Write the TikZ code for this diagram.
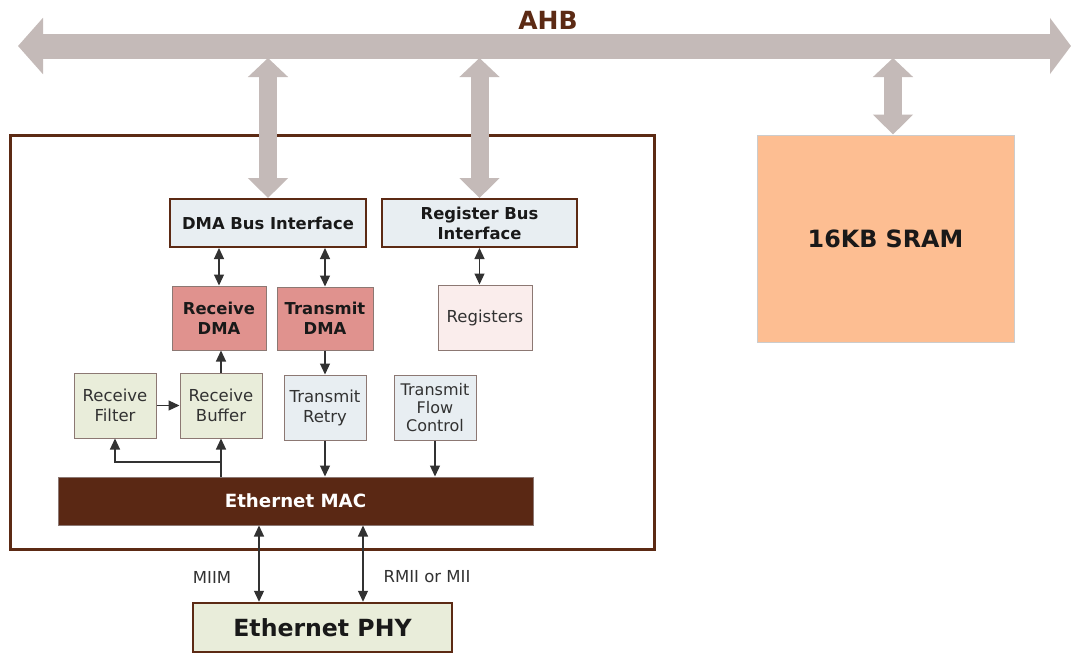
\documentclass[tikz,border=0pt]{standalone}
\usepackage{fontspec}
\setmainfont{DejaVu Sans}
\usetikzlibrary{arrows.meta,calc}
\definecolor{buscol}{RGB}{196,186,184}
\definecolor{brown}{RGB}{92,42,20}
\definecolor{macfill}{RGB}{90,40,20}
\definecolor{blfill}{RGB}{232,238,242}
\definecolor{grfill}{RGB}{233,237,218}
\definecolor{rdfill}{RGB}{224,146,142}
\definecolor{pkfill}{RGB}{250,237,236}
\definecolor{srfill}{RGB}{253,190,146}
\definecolor{thinb}{RGB}{140,120,115}
\definecolor{linecol}{RGB}{50,50,50}
\definecolor{txt}{RGB}{50,50,50}
\begin{document}
\begin{tikzpicture}[x=1pt,y=-1pt,
  box/.style={draw=thinb, line width=1pt, inner sep=0pt, align=center, text=txt,
    font=\fontsize{16.5}{20}\selectfont},
  bbox/.style={box, font=\fontsize{16.4}{20}\selectfont\bfseries, text=black!90},
  sarr/.style={draw=linecol, line width=1.2pt, -{Triangle[length=11pt,width=10pt]}},
  darr/.style={draw=linecol, line width=1.2pt, {Triangle[length=11pt,width=10pt]}-{Triangle[length=11pt,width=10pt]}},
  bus/.style={draw=buscol, line width=25pt, {Triangle[length=25pt,width=55pt]}-{Triangle[length=21pt,width=55pt]}},
  vbus/.style={draw=buscol, line width=18pt, {Triangle[length=19pt,width=39pt]}-{Triangle[length=20pt,width=39pt]}},
  lbl/.style={inner sep=0pt, text=txt, font=\fontsize{16.5}{20}\selectfont}
]
\useasboundingbox (0,0) rectangle (1071,654);
\fill[white] (0,0) rectangle (1071,654);

% outer box
\draw[brown, line width=3pt] (10,135) rectangle (654,549);

% bus
\coordinate (busL) at (18,46);
\coordinate (busR) at (1071,46);
\coordinate (busbot) at (0,58);
\coordinate (sramtap) at (893,58);
\draw[bus] (busL) -- (busR);
\node[inner sep=0pt, text=brown, font=\fontsize{25}{28}\selectfont\bfseries] (ahb) at (548,20) {AHB};

% blocks
\node[bbox, draw=brown, line width=2pt, fill=blfill, minimum width=196pt, minimum height=48pt] (dmabus) at (268,223) {DMA Bus Interface};
\node[bbox, draw=brown, line width=2pt, fill=blfill, minimum width=195pt, minimum height=48pt] (regbus) at (479.5,223) {Register Bus\\Interface};
\node[bbox, fill=rdfill, minimum width=94pt, minimum height=64pt] (rxdma) at (219,318) {Receive\\DMA};
\node[bbox, fill=rdfill, minimum width=96pt, minimum height=63pt] (txdma) at (325,318.5) {Transmit\\DMA};
\node[box, fill=pkfill, minimum width=94pt, minimum height=65pt] (regs) at (485,317.5) {Registers};
\node[box, fill=grfill, minimum width=82pt, minimum height=65pt] (rxf) at (115,405.5) {Receive\\Filter};
\node[box, fill=grfill, minimum width=82pt, minimum height=65pt] (rxb) at (221,405.5) {Receive\\Buffer};
\node[box, fill=blfill, minimum width=82pt, minimum height=65pt] (txr) at (325,407.5) {Transmit\\Retry};
\node[box, fill=blfill, minimum width=82pt, minimum height=65pt, font=\fontsize{16}{18.3}\selectfont] (txf) at (435,407.5) {Transmit\\Flow\\Control};
\node[draw=thinb, line width=1pt, fill=macfill, inner sep=0pt, minimum width=475pt, minimum height=48pt,
  text=white, font=\fontsize{18.2}{21}\selectfont\bfseries] (mac) at (295.5,501) {Ethernet MAC};
\node[draw=brown, line width=2.5pt, fill=grfill, inner sep=0pt, minimum width=259pt, minimum height=49pt,
  text=black!90, font=\fontsize{23.6}{27}\selectfont\bfseries] (phy) at (322.5,627.5) {Ethernet PHY};
\node[draw=black!20, line width=1pt, fill=srfill, inner sep=0pt, minimum width=257pt, minimum height=207pt,
  text=black!90, font=\fontsize{23.8}{27}\selectfont\bfseries] (sram) at (885.5,238.5) {16KB SRAM};

% bus taps
\draw[vbus] (dmabus.north |- busbot) -- (dmabus.north);
\draw[vbus] (regbus.north |- busbot) -- (regbus.north);
\draw[vbus] (sramtap) -- (sramtap |- sram.north);

% small connectors
\draw[darr] (rxdma.north |- dmabus.south) -- (rxdma.north);
\draw[darr] (txdma.north |- dmabus.south) -- (txdma.north);
\draw[darr] (regbus.south) -- (regbus.south |- regs.north);
\draw[sarr] (rxb.north) -- (rxb.north |- rxdma.south);
\draw[sarr] (txr.north |- txdma.south) -- (txr.north);
\draw[sarr] (rxf.east) -- (rxb.west);
\coordinate (br) at (0,462);
\draw[sarr] (rxb.south |- mac.north) -- (rxb.south);
\draw[sarr] (rxb.south |- br) -| (rxf.south);
\draw[sarr] (txr.south) -- (txr.south |- mac.north);
\draw[sarr] (txf.south) -- (txf.south |- mac.north);

% MAC to PHY
\coordinate (miim) at (259,0);
\coordinate (rmii) at (363,0);
\draw[darr] (miim |- mac.south) -- (miim |- phy.north);
\draw[darr] (rmii |- mac.south) -- (rmii |- phy.north);
\node[lbl] (lmiim) at (212,577) {MIIM};
\node[lbl] (lrmii) at (427,577) {RMII or MII};
\end{tikzpicture}
\end{document}
